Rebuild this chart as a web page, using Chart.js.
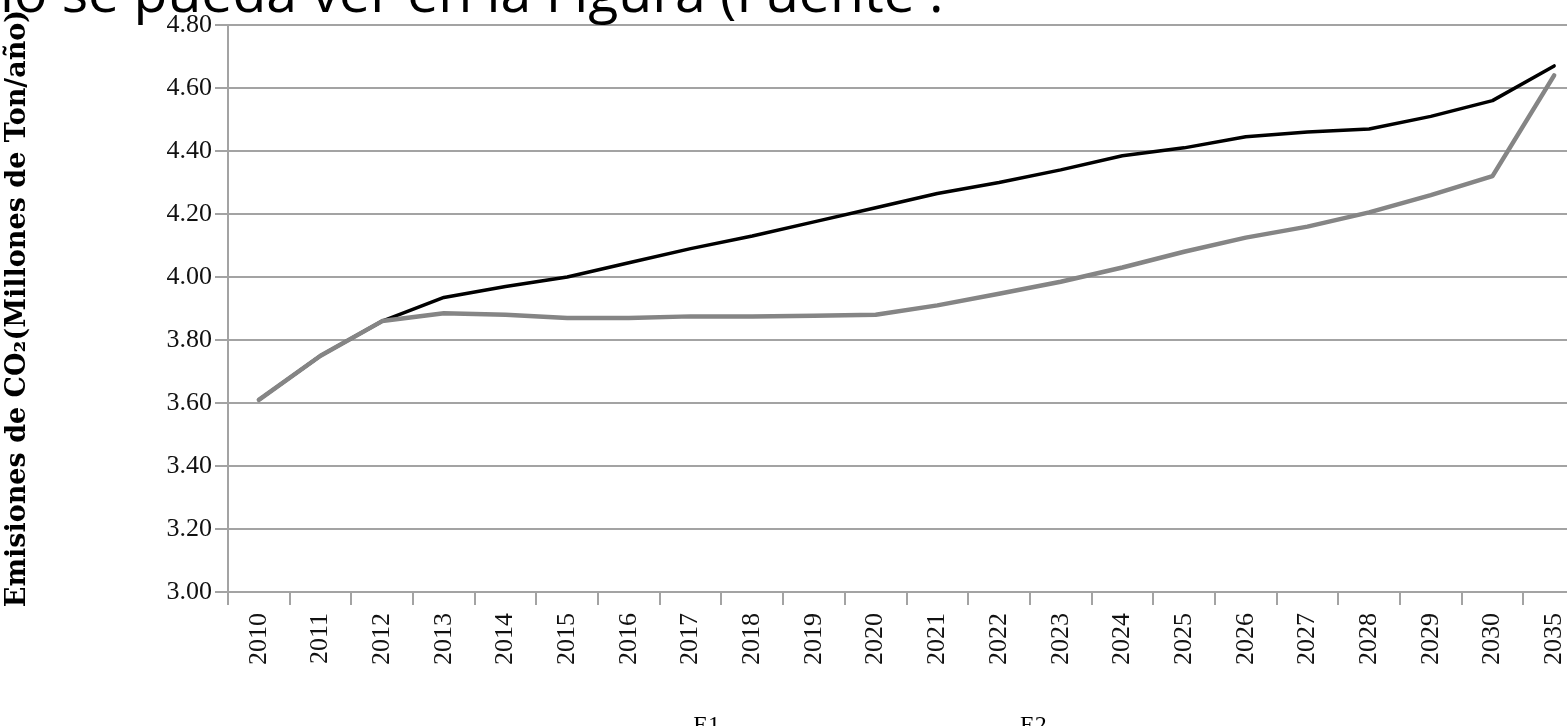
<!DOCTYPE html>
<html><head><meta charset="utf-8">
<script src="https://cdn.jsdelivr.net/npm/chart.js@4.4.1/dist/chart.umd.min.js"></script>
<style>
html,body{margin:0;padding:0;width:1567px;height:726px;overflow:hidden;background:#fff;position:relative}
#wrap{position:absolute;left:-135px;top:0;width:1735px;height:748px}
#top{position:absolute;left:0;top:-30px;font-family:"Open Sans";font-size:40px;line-height:40px;white-space:nowrap;color:#000;z-index:2}
</style></head><body>
<div id="wrap"><canvas id="c" width="1735" height="748"></canvas></div>
<div id="top">lo se pueda ver en la Figura (Fuente :</div>
<script>
const categories = ['2010','2011','2012','2013','2014','2015','2016','2017','2018','2019','2020','2021','2022','2023','2024','2025','2026','2027','2028','2029','2030','2035'];
const e1Values = [3.61,3.75,3.86,3.935,3.97,4.00,4.045,4.09,4.13,4.175,4.22,4.265,4.30,4.34,4.385,4.41,4.445,4.46,4.47,4.51,4.56,4.67];
const e2Values = [3.61,3.75,3.86,3.885,3.88,3.87,3.87,3.875,3.875,3.877,3.88,3.91,3.947,3.985,4.03,4.08,4.125,4.16,4.205,4.26,4.32,4.64];
const yTickLabels = ['3.00','3.20','3.40','3.60','3.80','4.00','4.20','4.40','4.60','4.80'];
const seriesNames = ['E1','E2'];
const yTitle = 'Emisiones de CO\u2082(Millones de Ton/a\u00f1o)';
const topText = 'lo se pueda ver en la Figura (Fuente :';

// fit the cut-off heading text
(function(){
  const el = document.getElementById('top');
  el.textContent = topText;
  const m = document.createElement('canvas').getContext('2d');
  m.font = '40px "Open Sans"';
  const w = m.measureText(topText).width;
  const f = 40 * 944 / w;
  el.style.fontSize = f + 'px';
  el.style.lineHeight = f + 'px';
  el.style.top = (12 - 0.888 * f) + 'px';
})();

const tickFont = {family: '"Liberation Serif"', size: 26};
const legendFont = {family: '"Liberation Serif"', size: 24};
const gridCol = '#a3a3a3';

new Chart(document.getElementById('c'), {
  type: 'line',
  data: {
    labels: categories,
    datasets: [
      {label: seriesNames[0], data: e1Values, borderColor: '#000', backgroundColor: '#000', borderWidth: 3.5, pointRadius: 0, tension: 0, order: 2, borderJoinStyle: 'round', borderCapStyle: 'round'},
      {label: seriesNames[1], data: e2Values, borderColor: '#858585', backgroundColor: '#858585', borderWidth: 4.5, pointRadius: 0, tension: 0, order: 1, borderJoinStyle: 'round', borderCapStyle: 'round'}
    ]
  },
  options: {
    responsive: false,
    animation: false,
    layout: {padding: {top: 25, right: 15, bottom: 0, left: 0}},
    plugins: {
      tooltip: {enabled: false},
      legend: {
        position: 'bottom',
        labels: {
          font: legendFont, color: '#000', boxWidth: 278, boxHeight: 2, padding: 10,
          sort: (a, b) => a.datasetIndex - b.datasetIndex,
          generateLabels(chart) {
            const items = Chart.defaults.plugins.legend.labels.generateLabels(chart);
            items.forEach(it => { it.lineWidth = 0; it.fillStyle = 'rgba(0,0,0,0)'; it.strokeStyle = 'rgba(0,0,0,0)'; });
            return items;
          }
        }
      }
    },
    scales: {
      x: {
        offset: true,
        grid: {offset: true, drawOnChartArea: false, tickLength: 13, color: gridCol, lineWidth: 2},
        border: {color: gridCol, width: 2},
        ticks: {minRotation: 90, maxRotation: 90, autoSkip: false, padding: 8, font: tickFont, color: '#111'},
        afterFit(s) { s.height = 112; }
      },
      y: {
        min: 3, max: 4.8,
        ticks: {stepSize: 0.2, font: tickFont, color: '#111', padding: 3,
          callback: (v, i) => yTickLabels[i]},
        grid: {color: gridCol, lineWidth: 2, tickLength: 13},
        border: {color: gridCol, width: 2},
        title: {display: true, text: yTitle, color: '#000', font: {family: '"DejaVu Serif"', weight: 'bold', size: 27}, padding: {top: 137, bottom: 0}},
        afterFit(s) { s.width = 363; }
      }
    }
  }
});
</script>
</body></html>
